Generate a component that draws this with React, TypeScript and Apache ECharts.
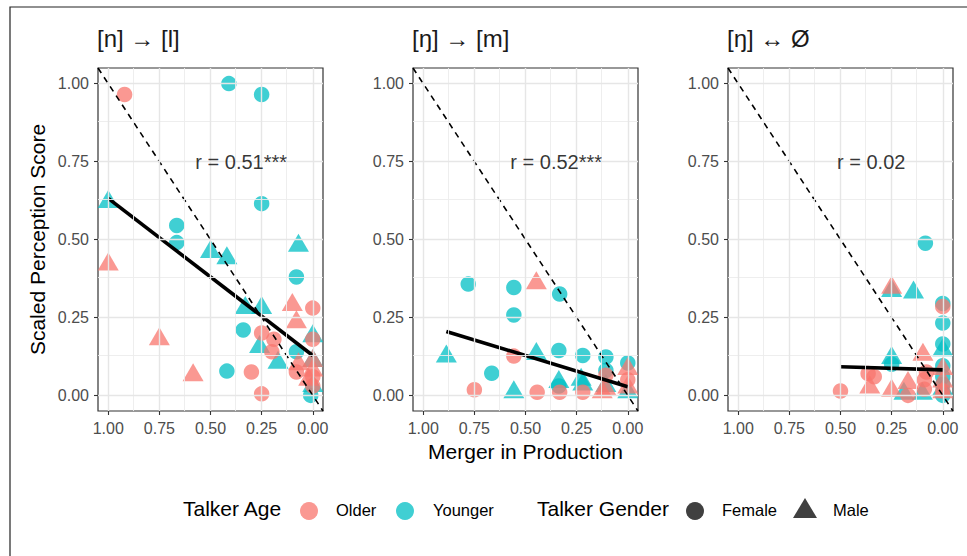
import React, { useEffect, useRef } from "react";
import * as echarts from "echarts";

// ---------- data ----------
const panelTitles = ["[n] \u2192 [l]", "[\u014b] \u2192 [m]", "[\u014b] \u2194 \u00d8"];
const correlationLabels = ["r = 0.51***", "r = 0.52***", "r = 0.02"];
const correlationLabelPos: [number, number] = [0.35, 0.75];
const majorTicks = [0, 0.25, 0.5, 0.75, 1];
const minorTicks = [0.125, 0.375, 0.625, 0.875];
const ageLevels = ["Older", "Younger"];
const genderLevels = ["Female", "Male"];
const xAxisTitle = "Merger in Production";
const yAxisTitle = "Scaled Perception Score";
const ageLegendTitle = "Talker Age";
const genderLegendTitle = "Talker Gender";

// [merger in production, scaled perception, age (O/Y), gender (F/M)]
type Pt = [number, number, string, string];

const panel1Points: Pt[] = [
  [0.92, 0.965, "O", "F"],
  [1.0, 0.42, "O", "M"],
  [0.75, 0.18, "O", "M"],
  [0.585, 0.065, "O", "M"],
  [0.41, 1.0, "Y", "F"],
  [0.25, 0.965, "Y", "F"],
  [0.25, 0.615, "Y", "F"],
  [1.0, 0.62, "Y", "M"],
  [0.665, 0.545, "Y", "F"],
  [0.665, 0.49, "Y", "F"],
  [0.5, 0.46, "Y", "M"],
  [0.42, 0.44, "Y", "M"],
  [0.07, 0.48, "Y", "M"],
  [0.08, 0.38, "Y", "F"],
  [0.33, 0.28, "Y", "M"],
  [0.25, 0.28, "Y", "M"],
  [0.34, 0.21, "Y", "F"],
  [0.26, 0.155, "Y", "M"],
  [0.17, 0.105, "Y", "M"],
  [0.08, 0.14, "Y", "F"],
  [0.0, 0.19, "Y", "M"],
  [0.42, 0.078, "Y", "F"],
  [0.0, 0.11, "Y", "M"],
  [0.01, 0.0, "Y", "F"],
  [0.0, 0.03, "Y", "M"],
  [0.3, 0.075, "O", "F"],
  [0.25, 0.005, "O", "F"],
  [0.25, 0.2, "O", "F"],
  [0.19, 0.18, "O", "F"],
  [0.2, 0.14, "O", "F"],
  [0.1, 0.29, "O", "M"],
  [0.08, 0.235, "O", "M"],
  [0.0, 0.28, "O", "F"],
  [0.0, 0.18, "O", "F"],
  [0.07, 0.1, "O", "M"],
  [0.08, 0.075, "O", "F"],
  [0.0, 0.11, "O", "M"],
  [0.0, 0.06, "O", "F"],
  [0.0, 0.03, "O", "F"],
  [0.02, 0.05, "O", "M"],
  [0.0, 0.08, "O", "M"],
];

const panel2Points: Pt[] = [
  [0.78, 0.357, "Y", "F"],
  [0.557, 0.346, "Y", "F"],
  [0.557, 0.258, "Y", "F"],
  [0.333, 0.325, "Y", "F"],
  [0.887, 0.125, "Y", "M"],
  [0.665, 0.071, "Y", "F"],
  [0.557, 0.01, "Y", "M"],
  [0.447, 0.133, "Y", "M"],
  [0.337, 0.144, "Y", "F"],
  [0.22, 0.128, "Y", "F"],
  [0.107, 0.123, "Y", "F"],
  [0.0, 0.104, "Y", "F"],
  [0.337, 0.043, "Y", "M"],
  [0.337, 0.03, "Y", "F"],
  [0.228, 0.05, "Y", "M"],
  [0.22, 0.035, "Y", "M"],
  [0.107, 0.08, "Y", "F"],
  [0.107, 0.03, "Y", "M"],
  [0.0, 0.01, "Y", "M"],
  [0.75, 0.018, "O", "F"],
  [0.557, 0.126, "O", "F"],
  [0.447, 0.36, "O", "M"],
  [0.443, 0.01, "O", "F"],
  [0.333, 0.01, "O", "F"],
  [0.22, 0.01, "O", "F"],
  [0.107, 0.065, "O", "F"],
  [0.107, 0.02, "O", "M"],
  [0.125, 0.01, "O", "M"],
  [0.0, 0.085, "O", "M"],
  [0.0, 0.05, "O", "F"],
  [0.0, 0.025, "O", "M"],
];

const panel3Points: Pt[] = [
  [0.085, 0.488, "Y", "F"],
  [0.25, 0.335, "Y", "M"],
  [0.143, 0.33, "Y", "M"],
  [0.0, 0.295, "Y", "F"],
  [0.0, 0.232, "Y", "F"],
  [0.0, 0.165, "Y", "F"],
  [0.0, 0.145, "Y", "M"],
  [0.25, 0.12, "Y", "M"],
  [0.25, 0.1, "Y", "F"],
  [0.0, 0.095, "Y", "F"],
  [0.0, 0.06, "Y", "F"],
  [0.19, 0.005, "Y", "M"],
  [0.1, 0.005, "Y", "M"],
  [0.0, 0.02, "Y", "M"],
  [0.0, 0.0, "Y", "F"],
  [0.0, 0.035, "Y", "F"],
  [0.5, 0.014, "O", "F"],
  [0.365, 0.07, "O", "F"],
  [0.335, 0.06, "O", "F"],
  [0.357, 0.025, "O", "M"],
  [0.25, 0.345, "O", "M"],
  [0.25, 0.015, "O", "M"],
  [0.17, 0.04, "O", "M"],
  [0.17, 0.0, "O", "F"],
  [0.097, 0.13, "O", "M"],
  [0.09, 0.05, "O", "F"],
  [0.09, 0.02, "O", "F"],
  [0.08, 0.075, "O", "F"],
  [0.0, 0.285, "O", "F"],
  [0.0, 0.085, "O", "M"],
  [0.0, 0.045, "O", "M"],
  [0.0, 0.015, "O", "F"],
  [0.0, 0.01, "O", "M"],
];

const fitLine1 = [[1.0, 0.632], [0.0, 0.128]];
const fitLine2 = [[0.887, 0.205], [0.0, 0.028]];
const fitLine3 = [[0.5, 0.092], [0.0, 0.082]];
const identityLine = [[1.05, 1.05], [-0.05, -0.05]];
const axisRange = [-0.05, 1.05];

const panelPoints = [panel1Points, panel2Points, panel3Points];
const fitLines = [fitLine1, fitLine2, fitLine3];

// ---------- style ----------
const FONT = "'Liberation Sans', Arial, Helvetica, sans-serif";
const OLDER = "#F8766D";
const YOUNGER = "#00BFC4";
const gridLefts = [98, 413, 728];
const GRID_TOP = 68;
const GRID_W = 225;
const GRID_H = 343;

function buildOption() {
  const grids = gridLefts.map((left) => ({
    left,
    top: GRID_TOP,
    width: GRID_W,
    height: GRID_H,
    show: true,
    backgroundColor: "#ffffff",
    borderColor: "#333333",
    borderWidth: 1.2,
    containLabel: false,
  }));

  const xAxes = gridLefts.map((_, i) => ({
    type: "value",
    gridIndex: i,
    inverse: true,
    min: axisRange[0],
    max: axisRange[1],
    name: i === 1 ? xAxisTitle : "",
    nameLocation: "middle",
    nameGap: 30,
    nameTextStyle: { fontFamily: FONT, fontSize: 21, color: "#000" },
    axisLine: { show: false, onZero: false },
    axisTick: { show: true, customValues: majorTicks, length: 4, lineStyle: { color: "#333333", width: 1.1 } },
    axisLabel: {
      show: true,
      customValues: majorTicks,
      formatter: (v: number) => v.toFixed(2),
      margin: 9,
      fontFamily: FONT,
      fontSize: 16,
      color: "#4D4D4D",
    },
    splitLine: { show: false },
  }));

  const yAxes = gridLefts.map((_, i) => ({
    type: "value",
    gridIndex: i,
    min: axisRange[0],
    max: axisRange[1],
    name: i === 0 ? yAxisTitle : "",
    nameLocation: "middle",
    nameGap: 50,
    nameTextStyle: { fontFamily: FONT, fontSize: 21, color: "#000" },
    axisLine: { show: false, onZero: false },
    axisTick: { show: true, customValues: majorTicks, length: 4, lineStyle: { color: "#333333", width: 1.1 } },
    axisLabel: {
      show: true,
      customValues: majorTicks,
      formatter: (v: number) => v.toFixed(2),
      margin: 9,
      fontFamily: FONT,
      fontSize: 16,
      color: "#4D4D4D",
    },
    splitLine: { show: false },
  }));

  const majorStyle = { color: "#E6E6E6", width: 1.4, type: "solid" };
  const minorStyle = { color: "#ECECEC", width: 0.9, type: "solid" };

  const series: any[] = [];
  gridLefts.forEach((_, i) => {
    series.push({
      type: "line",
      xAxisIndex: i,
      yAxisIndex: i,
      data: [],
      silent: true,
      z: 1,
      markLine: {
        silent: true,
        symbol: ["none", "none"],
        label: { show: false },
        emphasis: { disabled: true },
        data: [
          ...minorTicks.map((v) => ({ xAxis: v, lineStyle: minorStyle })),
          ...minorTicks.map((v) => ({ yAxis: v, lineStyle: minorStyle })),
          ...majorTicks.map((v) => ({ xAxis: v, lineStyle: majorStyle })),
          ...majorTicks.map((v) => ({ yAxis: v, lineStyle: majorStyle })),
        ],
      },
    });

    series.push({
      type: "scatter",
      xAxisIndex: i,
      yAxisIndex: i,
      z: 2,
      silent: true,
      data: panelPoints[i].map(([x, y, age, gender]) => ({
        value: [x, y],
        symbol: gender === "M" ? "triangle" : "circle",
        symbolSize: gender === "M" ? [21, 18] : 15.5,
        symbolOffset: gender === "M" ? [0, -3] : [0, 0],
        itemStyle: { color: age === "O" ? OLDER : YOUNGER, opacity: 0.75 },
      })),
    });

    series.push({
      type: "line",
      xAxisIndex: i,
      yAxisIndex: i,
      z: 3,
      silent: true,
      symbol: "none",
      data: identityLine,
      lineStyle: { color: "#000", width: 1.6, type: [6, 5] },
    });

    series.push({
      type: "line",
      xAxisIndex: i,
      yAxisIndex: i,
      z: 4,
      silent: true,
      symbol: "none",
      data: fitLines[i],
      lineStyle: { color: "#000", width: 3.6, cap: "butt" },
    });

    series.push({
      type: "scatter",
      xAxisIndex: i,
      yAxisIndex: i,
      z: 5,
      silent: true,
      symbolSize: 1,
      itemStyle: { color: "rgba(0,0,0,0)" },
      data: [correlationLabelPos],
      label: {
        show: true,
        position: "inside",
        formatter: () => correlationLabels[i],
        fontFamily: FONT,
        fontSize: 20,
        color: "#000",
      },
    });
  });

  const titles = panelTitles.map((t, i) => ({
    text: t,
    left: gridLefts[i] - 1,
    top: 26,
    padding: 0,
    textStyle: { fontFamily: FONT, fontSize: 24, fontWeight: "normal", color: "#1A1A1A" },
  }));

  const legendY = 511;
  const legendText = (text: string, x: number, size: number) => ({
    type: "text",
    left: x,
    top: legendY - size * 0.6,
    style: { text, fontFamily: FONT, fontSize: size, fill: "#000" },
  });

  const graphic: any[] = [
    {
      type: "rect",
      shape: { x: 10, y: 7, width: 1000, height: 600 },
      style: { fill: "none", stroke: "#222", lineWidth: 1.2 },
      silent: true,
      z: 100,
    },
    legendText(ageLegendTitle, 183, 21),
    { type: "circle", shape: { cx: 309, cy: legendY, r: 9 }, style: { fill: OLDER, opacity: 0.75 } },
    legendText(ageLevels[0], 336, 16.5),
    { type: "circle", shape: { cx: 405, cy: legendY, r: 9 }, style: { fill: YOUNGER, opacity: 0.75 } },
    legendText(ageLevels[1], 433, 16.5),
    legendText(genderLegendTitle, 537, 21),
    { type: "circle", shape: { cx: 695, cy: legendY, r: 9 }, style: { fill: "#000", opacity: 0.75 } },
    legendText(genderLevels[0], 722, 16.5),
    {
      type: "polygon",
      shape: { points: [[805, legendY - 13], [817, legendY + 7], [793, legendY + 7]] },
      style: { fill: "#000", opacity: 0.75 },
    },
    legendText(genderLevels[1], 833, 16.5),
  ];

  return {
    animation: false,
    backgroundColor: "#ffffff",
    title: titles,
    grid: grids,
    xAxis: xAxes,
    yAxis: yAxes,
    series,
    graphic,
  };
}

export default function App() {
  const ref = useRef<HTMLDivElement>(null);
  useEffect(() => {
    if (!ref.current) return;
    const chart = echarts.init(ref.current, undefined, { renderer: "svg" });
    chart.setOption(buildOption() as any);
    return () => chart.dispose();
  }, []);
  return (
    <div
      ref={ref}
      style={{ position: "fixed", left: 0, top: 0, width: 967, height: 556, background: "#fff" }}
    />
  );
}
